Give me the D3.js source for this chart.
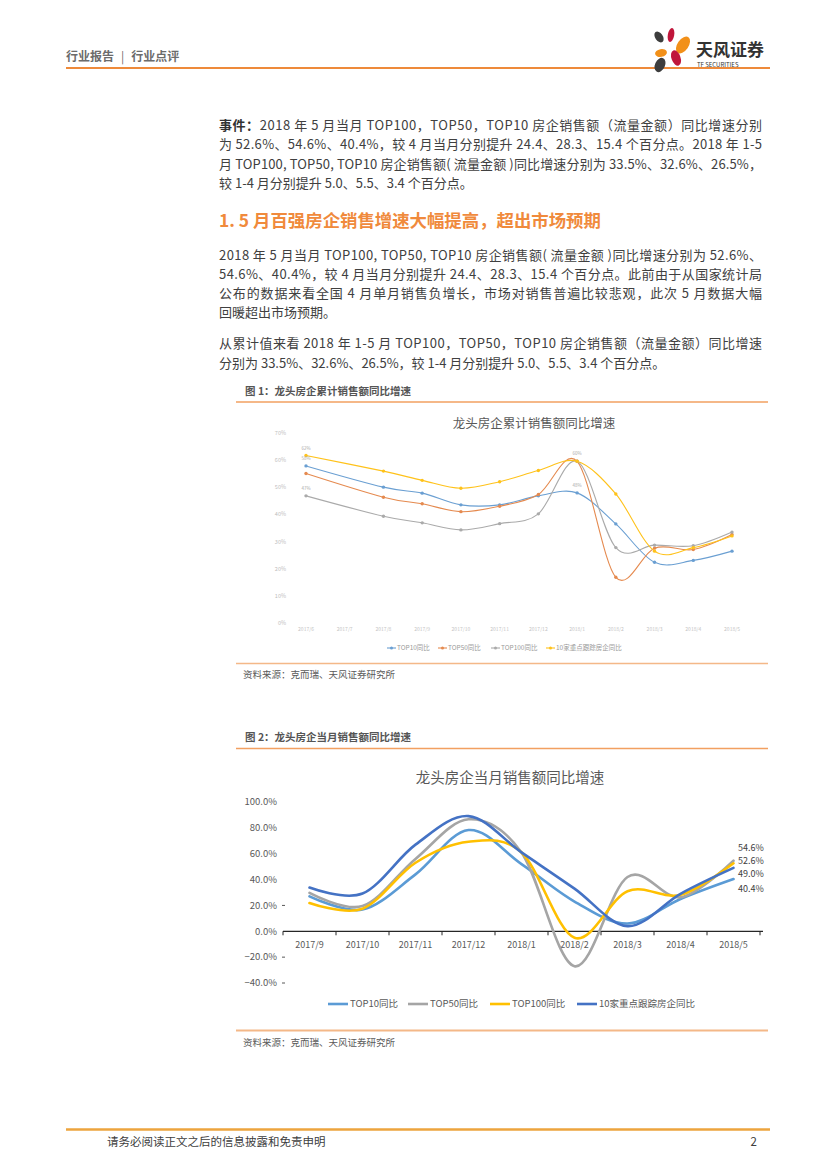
<!DOCTYPE html>
<html><head><meta charset="utf-8">
<script src="https://cdn.jsdelivr.net/npm/d3@7"></script>
<style>
body{margin:0;background:#fff}
svg{display:block}
text{font-family:"Noto Sans CJK SC","Noto Sans",sans-serif}
</style>
</head><body>
<svg id="page" width="827" height="1169"></svg>
<script>
// ---------- Chart 1 data (cumulative YoY, %) ----------
const cats1 = ["2017/6","2017/7","2017/8","2017/9","2017/10","2017/11","2017/12","2018/1","2018/2","2018/3","2018/4","2018/5"];
const cumTop10  = [57.8, null, 50.0, 47.8, 43.5, 43.5, 46.8, 47.9, 36.5, 22.4, 23.1, 26.5];
const cumTop50  = [55.0, null, 46.3, 43.9, 41.0, 43.0, 47.3, 59.5, 16.9, 27.6, 27.1, 32.6];
const cumTop100 = [46.8, null, 39.3, 36.9, 34.3, 36.6, 40.2, 59.5, 27.8, 28.7, 28.5, 33.5];
const cumKey10  = [61.6, null, 55.9, 52.5, 49.6, 52.0, 56.1, 59.5, 47.5, 26.5, 27.8, 32.1];
const ticks1 = [0,10,20,30,40,50,60,70];
const names1 = ["TOP10同比","TOP50同比","TOP100同比","10家重点跟踪房企同比"];

// ---------- Chart 2 data (monthly YoY, %) ----------
const cats2 = ["2017/9","2017/10","2017/11","2017/12","2018/1","2018/2","2018/3","2018/4","2018/5"];
const monTop10  = [27.0, 16.8, 44.0, 78.3, 52.0, 23.0, 6.0, 25.0, 40.4];
const monTop50  = [29.7, 19.5, 56.0, 86.6, 61.0, -27.0, 42.0, 26.3, 54.6];
const monTop100 = [21.9, 17.5, 53.0, 69.2, 61.0, -5.0, 31.0, 28.2, 52.6];
const monKey10  = [33.8, 29.2, 67.0, 89.1, 61.0, 33.0, 4.0, 29.0, 49.0];
const ticks2 = [-40,-20,0,20,40,60,80,100];
const names2 = ["TOP10同比","TOP50同比","TOP100同比","10家重点跟踪房企同比"];

// ---------- page text ----------
const headerParts = ["行业报告", "|", "行业点评"];
const para1 = [
  {seg:[{t:"事件：",b:true},{t:"2018 年 5 月当月 TOP100，TOP50，TOP10 房企销售额（流量金额）同比增速分别"}], j:true},
  {seg:[{t:"为 52.6%、54.6%、40.4%，较 4 月当月分别提升 24.4、28.3、15.4 个百分点。2018 年 1-5"}], j:true},
  {seg:[{t:"月 TOP100, TOP50, TOP10 房企销售额( 流量金额 )同比增速分别为 33.5%、32.6%、26.5%，"}], j:true},
  {seg:[{t:"较 1-4 月分别提升 5.0、5.5、3.4 个百分点。"}], j:false}
];
const heading = "1. 5 月百强房企销售增速大幅提高，超出市场预期";
const para2 = [
  {seg:[{t:"2018 年 5 月当月 TOP100, TOP50, TOP10 房企销售额( 流量金额 )同比增速分别为 52.6%、"}], j:true},
  {seg:[{t:"54.6%、40.4%，较 4 月当月分别提升 24.4、28.3、15.4 个百分点。此前由于从国家统计局"}], j:true},
  {seg:[{t:"公布的数据来看全国 4 月单月销售负增长，市场对销售普遍比较悲观，此次 5 月数据大幅"}], j:true},
  {seg:[{t:"回暖超出市场预期。"}], j:false}
];
const para3 = [
  {seg:[{t:"从累计值来看 2018 年 1-5 月 TOP100，TOP50，TOP10 房企销售额（流量金额）同比增速"}], j:true},
  {seg:[{t:"分别为 33.5%、32.6%、26.5%，较 1-4 月分别提升 5.0、5.5、3.4 个百分点。"}], j:false}
];

const svg = d3.select("#page");
svg.append("rect").attr("width",827).attr("height",1169).attr("fill","#fff");

// ---------- header ----------
const hdr = svg.append("text").attr("x",66).attr("y",61).attr("font-size",12).attr("font-weight","bold")
  .attr("fill","#6b6b6b");
hdr.append("tspan").text(headerParts[0]);
hdr.append("tspan").attr("dx",7).attr("font-weight","normal").text(headerParts[1]);
hdr.append("tspan").attr("dx",7).text(headerParts[2]);
svg.append("line").attr("x1",66).attr("x2",770).attr("y1",68).attr("y2",68)
  .attr("stroke","#EE8A3A").attr("stroke-width",2);
// logo
const logo = svg.append("g");
const petals = [
  {cx:659,cy:37,rx:3.8,ry:6,r:-35,c:"#3d3d3d"},
  {cx:671,cy:35,rx:3.2,ry:7,r:10,c:"#c0163b"},
  {cx:683,cy:45,rx:5.5,ry:9.5,r:35,c:"#f29019"},
  {cx:661,cy:53,rx:6,ry:3.8,r:-10,c:"#f29019"},
  {cx:676,cy:58,rx:4.5,ry:8,r:-20,c:"#c0163b"},
  {cx:660,cy:65,rx:5,ry:7.5,r:25,c:"#3d3d3d"}
];
petals.forEach(p=>{
  logo.append("ellipse").attr("cx",p.cx).attr("cy",p.cy).attr("rx",p.rx).attr("ry",p.ry)
    .attr("transform",`rotate(${p.r},${p.cx},${p.cy})`).attr("fill",p.c);
});
logo.append("text").attr("x",696).attr("y",56).attr("font-size",17).attr("font-weight","bold")
  .attr("fill","#333").text("天风证券");
logo.append("text").attr("x",697).attr("y",67).attr("font-size",6).attr("fill","#333")
  .attr("font-family","Liberation Sans Narrow, Liberation Sans, sans-serif").text("TF SECURITIES");

// ---------- body text ----------
function para(lines, y0, lh){
  lines.forEach((l,i)=>{
    const t = svg.append("text").attr("x",219).attr("y",y0+i*lh).attr("font-size",13).attr("fill","#404040");
    if(l.j) t.attr("textLength",543).attr("lengthAdjust","spacing");
    l.seg.forEach(s=>{
      const ts = t.append("tspan").text(s.t);
      if(s.b){ ts.attr("font-weight","bold").attr("fill","#333"); }
    });
  });
}
para(para1, 130, 19.3);
svg.append("text").attr("x",219).attr("y",227).attr("font-size",17.4).attr("font-weight","bold")
  .attr("fill","#F08A3C").text(heading);
para(para2, 260, 19);
para(para3, 348, 19.5);

// ---------- figure frames ----------
function caption(txt, y){
  svg.append("text").attr("x",245).attr("y",y).attr("font-size",10.5).attr("font-weight","bold")
    .attr("fill","#555").text(txt);
}
function rule(y, col, w){
  svg.append("line").attr("x1",236).attr("x2",768).attr("y1",y).attr("y2",y)
    .attr("stroke",col).attr("stroke-width",w);
}
function source(y){
  svg.append("text").attr("x",243).attr("y",y).attr("font-size",9.5).attr("fill","#5a5a5a")
    .text("资料来源：克而瑞、天风证券研究所");
}
caption("图 1：龙头房企累计销售额同比增速", 395);
rule(402, "#F2A061", 1.5);
rule(663.5, "#F4B888", 1.5);
source(678);
caption("图 2：龙头房企当月销售额同比增速", 741);
rule(748.5, "#F2A061", 1.5);
rule(1030.5, "#F4B888", 2);
source(1046);

// ---------- Chart 1 ----------
const c1 = svg.append("g");
const x1 = d3.scalePoint().domain(cats1).range([306, 732]);
const y1 = d3.scaleLinear().domain([0,70]).range([623.3, 432.7]);
c1.append("text").attr("x",534).attr("y",428).attr("text-anchor","middle").attr("font-size",12.5)
  .attr("fill","#595959").text("龙头房企累计销售额同比增速");
ticks1.forEach(t=>{
  c1.append("text").attr("x",286).attr("y",y1(t)).attr("dy","0.35em").attr("text-anchor","end")
    .attr("font-size",5.5).attr("fill","#bdbdbd").text(t+"%");
});
cats1.forEach(c=>{
  c1.append("text").attr("x",x1(c)).attr("y",631).attr("text-anchor","middle")
    .attr("font-size",5).attr("fill","#c4c4c4").text(c);
});
const series1 = [
  {v:cumTop10, c:"#6a9fd2"},
  {v:cumTop50, c:"#e58a4f"},
  {v:cumTop100,c:"#aaaaaa"},
  {v:cumKey10, c:"#ffc21a"}
];
const line1 = d3.line().x(d=>x1(d.c)).y(d=>y1(d.v)).curve(d3.curveCatmullRom.alpha(0));
series1.forEach(s=>{
  const pts = cats1.map((c,i)=>({c:c,v:s.v[i]})).filter(d=>d.v!=null);
  c1.append("path").attr("d",line1(pts)).attr("fill","none").attr("stroke",s.c).attr("stroke-width",1.1);
  c1.selectAll(null).data(pts).enter().append("circle")
    .attr("cx",d=>x1(d.c)).attr("cy",d=>y1(d.v)).attr("r",1.7).attr("fill",s.c);
});
// small data labels
const fmtP = d3.format(".0%");
[[cumKey10,0],[cumTop10,0],[cumTop100,0],[cumKey10,7],[cumTop10,7]].forEach(([arr,i])=>{
  c1.append("text").attr("x",x1(cats1[i])).attr("y",y1(arr[i])-6).attr("text-anchor","middle")
    .attr("font-size",4.5).attr("fill","#aaa").text(fmtP(arr[i]/100));
});
// legend 1
const lg1x = [387, 438, 491, 546];
series1.forEach((s,i)=>{
  const g = c1.append("g");
  g.append("line").attr("x1",lg1x[i]).attr("x2",lg1x[i]+9).attr("y1",648).attr("y2",648)
    .attr("stroke",s.c).attr("stroke-width",1.1);
  g.append("circle").attr("cx",lg1x[i]+4.5).attr("cy",648).attr("r",1.5).attr("fill",s.c);
  g.append("text").attr("x",lg1x[i]+10).attr("y",648).attr("dy","0.35em").attr("font-size",6.5)
    .attr("fill","#9a9a9a").text(names1[i]);
});

// ---------- Chart 2 ----------
const c2 = svg.append("g");
const x2 = d3.scaleBand().domain(cats2).range([283, 760]);
const cx2 = d => x2(d) + x2.bandwidth()/2;
const y2 = d3.scaleLinear().domain([-40,100]).range([983, 802]);
c2.append("text").attr("x",510).attr("y",783).attr("text-anchor","middle").attr("font-size",14.5)
  .attr("fill","#595959").text("龙头房企当月销售额同比增速");
ticks2.forEach(t=>{
  c2.append("text").attr("x",277).attr("y",y2(t)).attr("dy","0.35em").attr("text-anchor","end")
    .attr("font-size",9.5).attr("fill","#595959").text(d3.format(".1f")(t)+"%");
  if(t===20||t===-20||t===-40){
    c2.append("line").attr("x1",282).attr("x2",285).attr("y1",y2(t)).attr("y2",y2(t))
      .attr("stroke","#595959").attr("stroke-width",1);
  }
});
c2.append("line").attr("x1",283).attr("x2",763).attr("y1",y2(0)).attr("y2",y2(0))
  .attr("stroke","#262626").attr("stroke-width",1.2);
x2.domain().concat([null]).forEach((d,i)=>{
  const xx = d==null ? 760 : x2(d);
  c2.append("line").attr("x1",xx).attr("x2",xx).attr("y1",y2(0)).attr("y2",y2(0)+4)
    .attr("stroke","#262626").attr("stroke-width",1);
});
cats2.forEach(c=>{
  c2.append("text").attr("x",cx2(c)).attr("y",948).attr("text-anchor","middle")
    .attr("font-size",9).attr("fill","#595959").text(c);
});
const series2 = [
  {v:monTop10, c:"#5b9bd5"},
  {v:monTop50, c:"#a5a5a5"},
  {v:monTop100,c:"#ffc000"},
  {v:monKey10, c:"#4472c4"}
];
const line2 = d3.line().x(d=>cx2(d.c)).y(d=>y2(d.v)).curve(d3.curveCatmullRom.alpha(0));
series2.forEach(s=>{
  const pts = cats2.map((c,i)=>({c:c,v:s.v[i]}));
  c2.append("path").attr("d",line2(pts)).attr("fill","none").attr("stroke",s.c)
    .attr("stroke-width",2.6).attr("stroke-linecap","round");
});
// end labels
const last = cats2.length-1;
const endLabels = [
  {v:monTop50[last], dy:-13},
  {v:monTop100[last], dy:-2},
  {v:monKey10[last], dy:6},
  {v:monTop10[last], dy:10}
];
endLabels.forEach(l=>{
  c2.append("text").attr("x",738).attr("y",y2(l.v)+l.dy).attr("dy","0.35em")
    .attr("font-size",9).attr("fill","#404040").text(d3.format(".1f")(l.v)+"%");
});
// legend 2
const lg2x = [328, 408, 490, 577];
series2.forEach((s,i)=>{
  c2.append("line").attr("x1",lg2x[i]).attr("x2",lg2x[i]+20).attr("y1",1004).attr("y2",1004)
    .attr("stroke",s.c).attr("stroke-width",2.6);
  c2.append("text").attr("x",lg2x[i]+22).attr("y",1004).attr("dy","0.35em").attr("font-size",9.5)
    .attr("fill","#595959").text(names2[i]);
});

// ---------- footer ----------
svg.append("line").attr("x1",66).attr("x2",770).attr("y1",1129.5).attr("y2",1129.5)
  .attr("stroke","#EDA43E").attr("stroke-width",2.5);
svg.append("text").attr("x",107).attr("y",1146).attr("font-size",11.5).attr("fill","#404040")
  .text("请务必阅读正文之后的信息披露和免责申明");
svg.append("text").attr("x",757).attr("y",1146).attr("text-anchor","end").attr("font-size",11.5)
  .attr("fill","#404040").text("2");
</script>
</body></html>
